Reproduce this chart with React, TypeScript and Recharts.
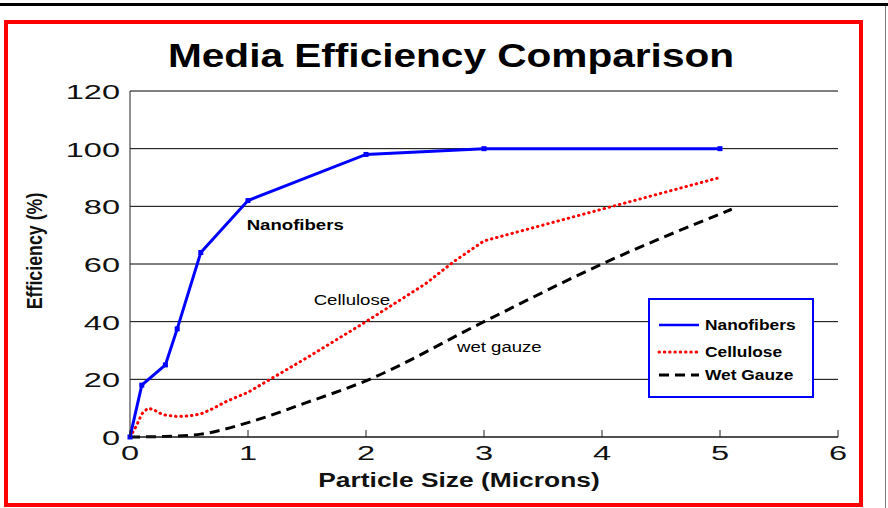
import React from 'react';
import { LineChart, Line, XAxis, YAxis, CartesianGrid, Legend, ReferenceDot } from 'recharts';

const FONT = '"Liberation Sans", Arial, Helvetica, sans-serif';

const xTicks = [0, 1, 2, 3, 4, 5, 6];
const yTicks = [0, 20, 40, 60, 80, 100, 120];

const nanofiberX = [0, 0.1, 0.3, 0.4, 0.6, 1, 2, 3, 5];
const nanofiberY = [0, 18, 25, 37.5, 64, 82, 98, 100, 100];

const celluloseX = [0, 0.05, 0.1, 0.15, 0.2, 0.25, 0.3, 0.4, 0.5, 0.6, 0.7, 0.8, 0.9, 1, 1.5, 2, 2.5, 2.75, 3, 4, 5];
const celluloseY = [0, 3.5, 8, 10, 9.5, 8.3, 7.6, 7.1, 7.3, 8, 9.8, 12, 13.8, 15.5, 27.5, 40, 53, 61, 68, 79, 90];

const gauzeX = [0, 0.3, 0.6, 1, 1.5, 2, 3, 4, 5.1];
const gauzeY = [0, 0.2, 1, 5, 12, 19.5, 40, 60, 79];

const seriesNames = ['Nanofibers', 'Cellulose', 'Wet Gauze'];
const annotationLabels = ['Nanofibers', 'Cellulose', 'wet gauze'];
const annotationX = [1.4, 1.88, 3.13];
const annotationY = [73.5, 47.5, 31.2];

const titleText = 'Media Efficiency Comparison';
const xLabelText = 'Particle Size (Microns)';
const yLabelText = 'Efficiency (%)';

const zip = (xs: number[], ys: number[]) => xs.map((x, i) => ({ x, y: ys[i] }));
const nanofiberData = zip(nanofiberX, nanofiberY);
const celluloseData = zip(celluloseX, celluloseY);
const gauzeData = zip(gauzeX, gauzeY);

const BLUE = '#0000ff';
const RED = '#ff0000';
const BLACK = '#000000';

const styles = [
  { color: BLUE, dash: undefined as string | undefined, cap: 'butt' },
  { color: RED, dash: '0.5 4.8', cap: 'round' },
  { color: BLACK, dash: '10 6', cap: 'butt' },
];

const XTick = (props: any) => {
  const { x, y, payload } = props;
  return (
    <g>
      <line x1={x} x2={x} y1={y} y2={y - 7} stroke="#222" strokeWidth={1} />
      <text
        transform={`translate(${x},${y + 23}) scale(1.55,1)`}
        textAnchor="middle"
        fontSize={21}
        fontFamily={FONT}
        fill="#111"
      >
        {payload.value}
      </text>
    </g>
  );
};

const YTick = (props: any) => {
  const { x, y, payload } = props;
  return (
    <text
      transform={`translate(${x - 10},${y + 8}) scale(1.55,1)`}
      textAnchor="end"
      fontSize={21}
      fontFamily={FONT}
      fill="#111"
    >
      {payload.value}
    </text>
  );
};

const SquareDot = (props: any) => {
  const { cx, cy } = props;
  if (cx == null || cy == null) return null;
  return <rect x={cx - 2.5} y={cy - 2.5} width={5} height={5} fill={BLUE} />;
};

const makeAnnotation = (text: string, bold: boolean) => (props: any) => {
  const { cx, cy } = props;
  return (
    <text
      transform={`translate(${cx},${cy + 5}) scale(1.24,1)`}
      textAnchor="middle"
      fontSize={15}
      fontWeight={bold ? 'bold' : 'normal'}
      fontFamily={FONT}
      fill="#000"
    >
      {text}
    </text>
  );
};

const renderLegend = () => {
  const rows = [27, 54, 77];
  return (
    <svg width={166} height={100} style={{ display: 'block' }}>
      <rect x={1} y={1} width={164} height={98} fill="#fff" stroke={BLUE} strokeWidth={2} />
      {seriesNames.map((name, i) => (
        <g key={name}>
          <line
            x1={11}
            x2={51}
            y1={rows[i]}
            y2={rows[i]}
            stroke={styles[i].color}
            strokeWidth={i === 0 ? 2.5 : 3}
            strokeDasharray={styles[i].dash}
            strokeLinecap={styles[i].cap as any}
          />
          <text
            transform={`translate(57,${rows[i] + 5}) scale(1.24,1)`}
            fontSize={14}
            fontWeight="bold"
            fontFamily={FONT}
            fill="#000"
          >
            {name}
          </text>
        </g>
      ))}
    </svg>
  );
};

export default function App() {
  return (
    <div style={{ position: 'absolute', left: 0, top: 0, width: 888, height: 508, background: '#fff', overflow: 'hidden' }}>
      <div style={{ position: 'absolute', left: 0, top: 3, width: 888, height: 3, background: '#000' }} />
      <div style={{ position: 'absolute', left: 885, top: 6, width: 1, height: 502, background: '#777' }} />
      <div
        style={{
          position: 'absolute',
          left: 4,
          top: 20,
          width: 859,
          height: 487,
          border: '4px solid #ff0000',
          boxSizing: 'border-box',
        }}
      />
      <div style={{ position: 'absolute', left: 0, top: 0 }}>
        <LineChart width={888} height={508} margin={{ top: 91, right: 50, left: 70, bottom: 41 }}>
          <CartesianGrid vertical={false} stroke="#000" strokeWidth={1} />
          <XAxis
            type="number"
            dataKey="x"
            domain={[0, 6]}
            ticks={xTicks}
            interval={0}
            height={30}
            tickSize={0}
            tickMargin={0}
            tickLine={false}
            axisLine={{ stroke: '#222', strokeWidth: 1 }}
            tick={<XTick />}
            allowDuplicatedCategory={false}
          />
          <YAxis
            type="number"
            dataKey="y"
            domain={[0, 120]}
            ticks={yTicks}
            interval={0}
            width={60}
            tickSize={0}
            tickMargin={0}
            tickLine={false}
            axisLine={{ stroke: '#222', strokeWidth: 1 }}
            tick={<YTick />}
          />
          <Legend
            layout="vertical"
            align="center"
            verticalAlign="middle"
            content={renderLegend}
            wrapperStyle={{ left: 648, top: 298, width: 166, height: 100 }}
          />
          <Line
            data={gauzeData}
            dataKey="y"
            name={seriesNames[2]}
            type="monotone"
            stroke={BLACK}
            strokeWidth={3}
            strokeDasharray="10 6"
            dot={false}
            activeDot={false}
            isAnimationActive={false}
          />
          <Line
            data={celluloseData}
            dataKey="y"
            name={seriesNames[1]}
            type="linear"
            stroke={RED}
            strokeWidth={3}
            strokeDasharray="0.5 4.8"
            strokeLinecap="round"
            dot={false}
            activeDot={false}
            isAnimationActive={false}
          />
          <Line
            data={nanofiberData}
            dataKey="y"
            name={seriesNames[0]}
            type="linear"
            stroke={BLUE}
            strokeWidth={3}
            dot={<SquareDot />}
            activeDot={false}
            isAnimationActive={false}
          />
          {annotationLabels.map((t, i) => (
            <ReferenceDot
              key={t}
              x={annotationX[i]}
              y={annotationY[i]}
              r={0}
              shape={makeAnnotation(t, i === 0)}
            />
          ))}
        </LineChart>
      </div>
      <svg width={888} height={508} style={{ position: 'absolute', left: 0, top: 0, pointerEvents: 'none' }}>
        <text
          transform="translate(451,67) scale(1.23,1)"
          textAnchor="middle"
          fontSize={33}
          fontWeight="bold"
          fontFamily={FONT}
          fill="#000"
        >
          {titleText}
        </text>
        <text
          transform="translate(459,487) scale(1.32,1)"
          textAnchor="middle"
          fontSize={20}
          fontWeight="bold"
          fontFamily={FONT}
          fill="#111"
        >
          {xLabelText}
        </text>
        <text
          transform="translate(42,251) rotate(-90) scale(1,1.24)"
          textAnchor="middle"
          fontSize={17.8}
          fontWeight="bold"
          fontFamily={FONT}
          fill="#111"
        >
          {yLabelText}
        </text>
      </svg>
    </div>
  );
}
